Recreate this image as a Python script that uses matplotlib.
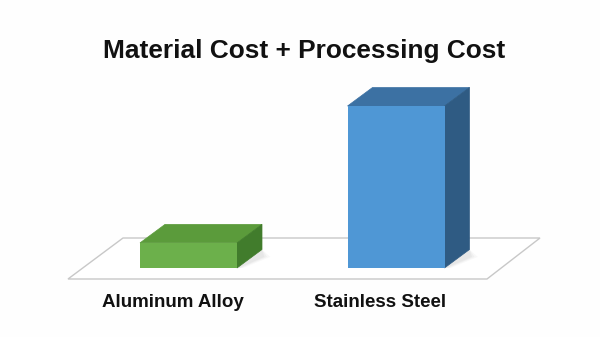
import matplotlib
matplotlib.use("Agg")
import matplotlib.pyplot as plt
from matplotlib.patches import Polygon

# Chart data
categories = ["Aluminum Alloy", "Stainless Steel"]
cost_values = [15.5, 100.0]
title_text = "Material Cost + Processing Cost"

# Face colours per bar: front, top, side
front_colors = ["#6cb04b", "#4f97d5"]
top_colors = ["#5b9b3b", "#3c71a3"]
side_colors = ["#417c2c", "#2f5b83"]

W, H, DPI = 600, 337, 100
fig = plt.figure(figsize=(W / DPI, H / DPI), dpi=DPI)
fig.patch.set_facecolor("#fefefe")
ax = fig.add_axes([0, 0, 1, 1])
ax.set_axis_off()

# Linear scales: category spacing and value scale
px_per_cat = 207.5
px_per_val = 1.62
x0_px = 188.5          # pixel x of first category
base_px = 268.0        # pixel y (from top) of the bar base
ax.set_xlim(-x0_px / px_per_cat, (W - x0_px) / px_per_cat)
ax.set_ylim(-(H - base_px) / px_per_val, base_px / px_per_val)

# 3-D depth offset of the bars, expressed in data units
depth_dx = 25 / px_per_cat
depth_dy = 18.5 / px_per_val
bar_width = 97 / px_per_cat

# Floor plane
floor_front = -11 / px_per_val
floor_back = 30 / px_per_val
floor = Polygon([(-120.5 / px_per_cat, floor_front), (298.5 / px_per_cat, floor_front),
                 (351.5 / px_per_cat, floor_back), (-65.5 / px_per_cat, floor_back)],
                closed=True, facecolor="#ffffff", edgecolor="#c8c8c8", lw=1.0, zorder=1)
ax.add_patch(floor)

xs = list(range(len(categories)))

# Soft shadows on the floor behind/right of each bar
for x in xs:
    left, right = x - bar_width / 2, x + bar_width / 2
    for k, a in [(1.0, 0.05), (0.6, 0.07), (0.3, 0.08)]:
        sh = Polygon([(left + 0.02, 0), (right + 0.03 * k, 0),
                      (right + depth_dx + 0.04 * k, depth_dy * 0.6),
                      (right + depth_dx, depth_dy)],
                     closed=True, facecolor="#888888", alpha=a, edgecolor="none", zorder=2)
        ax.add_patch(sh)

# Front faces
ax.bar(xs, cost_values, width=bar_width, bottom=0, color=front_colors,
       edgecolor="none", zorder=5)

# Top and side faces
for x, v, tc, sc in zip(xs, cost_values, top_colors, side_colors):
    left, right = x - bar_width / 2, x + bar_width / 2
    top = Polygon([(left, v), (right, v), (right + depth_dx, v + depth_dy),
                   (left + depth_dx, v + depth_dy)],
                  closed=True, facecolor=tc, edgecolor=tc, lw=0.5, zorder=4)
    side = Polygon([(right, 0), (right + depth_dx, depth_dy),
                    (right + depth_dx, v + depth_dy), (right, v)],
                   closed=True, facecolor=sc, edgecolor=sc, lw=0.5, zorder=4)
    ax.add_patch(top)
    ax.add_patch(side)

# Category labels
label_y = -(307 - base_px) / px_per_val
for x, name in zip(xs, categories):
    ax.text(x - 16 / px_per_cat, label_y, name, ha="center", va="baseline",
            fontsize=13.5, fontweight="bold", family=["Liberation Sans", "DejaVu Sans"],
            color="#111111")

fig.text(0.5065, 1 - 58 / H, title_text, ha="center", va="baseline",
         fontsize=18.9, fontweight="bold", family=["Liberation Sans", "DejaVu Sans"],
         color="#111111")

fig.savefig("out.png", dpi=DPI, facecolor=fig.get_facecolor())
